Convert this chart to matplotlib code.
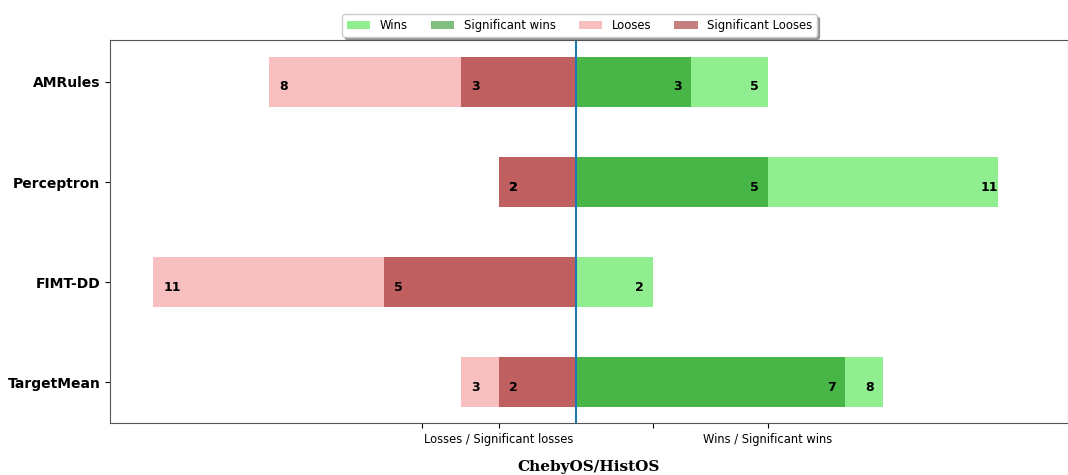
import numpy as np
import matplotlib
matplotlib.use('Agg')
import matplotlib.pyplot as plt

models = ['AMRules', 'Perceptron', 'FIMT-DD', 'TargetMean']
wins = [5, 11, 2, 8]
sig_wins = [3, 5, 0, 7]
losses = [8, 2, 11, 3]
sig_losses = [3, 2, 5, 2]

tick_pos = [-4, -2, 2, 5]
tick_labels = ['', 'Losses / Significant losses', '', 'Wins / Significant wins']

fig = plt.figure(figsize=(10.68, 4.75), dpi=100)
ax = fig.add_axes([0.103, 0.109, 0.897, 0.807])

y_pos = np.arange(len(models))
h = 0.5

ax.barh(y_pos, wins, height=h, color='lightgreen', label='Wins')
ax.barh(y_pos, sig_wins, height=h, color='green', alpha=0.5, label='Significant wins')
ax.barh(y_pos, [-v for v in losses], height=h, color='lightcoral', alpha=0.5, label='Looses')
ax.barh(y_pos, [-v for v in sig_losses], height=h, color='darkred', alpha=0.5,
        label='Significant Looses')

# value labels
for i in range(len(models)):
    for v in (wins[i], sig_wins[i]):
        if v:
            ax.text(v - 0.45, i + 0.05, str(v), ha='left', va='center',
                    fontsize=9, fontweight='bold')
    for v in (losses[i], sig_losses[i]):
        if v:
            ax.text(-v + 0.27, i + 0.05, str(v), ha='left', va='center',
                    fontsize=9, fontweight='bold')

ax.axvline(0, color='#1f77b4', linewidth=1.5)

ax.set_yticks(y_pos)
ax.set_yticklabels(models, fontsize=10, fontweight='bold')
ax.set_ylim(3.41, -0.42)
ax.set_xlim(-12.13, 12.82)
ax.set_xticks(tick_pos)
ax.set_xticklabels(tick_labels, fontsize=8.3)
for s in ax.spines.values():
    s.set_color('#555555')

ax.set_xlabel('ChebyOS/HistOS', fontsize=11, fontweight='bold', family='DejaVu Serif',
              labelpad=10)

ax.legend(loc='upper center', bbox_to_anchor=(0.49, 1.082), ncol=4, fontsize=8.4,
          shadow=True, fancybox=True)

plt.savefig('out.png')
